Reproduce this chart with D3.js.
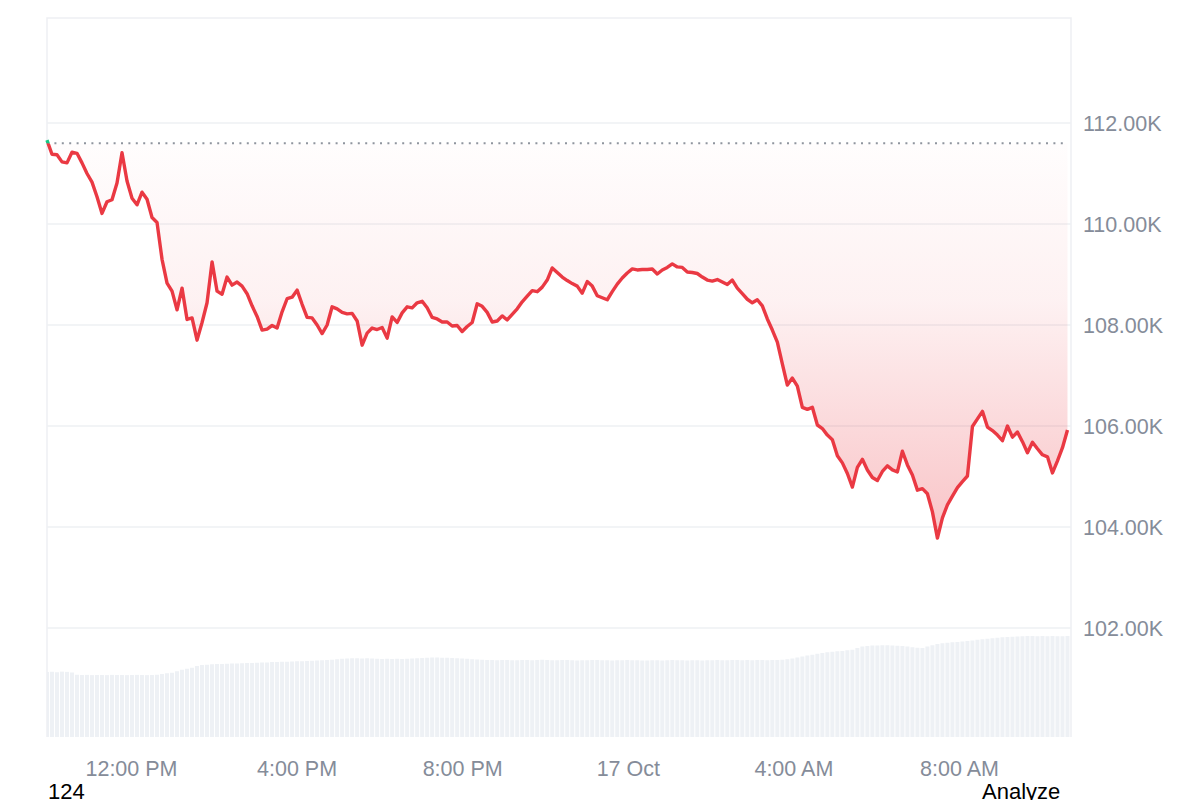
<!DOCTYPE html>
<html>
<head>
<meta charset="utf-8">
<script src="https://cdn.jsdelivr.net/npm/d3@7"></script>
<style>
  html, body { margin: 0; padding: 0; background: #fff; }
  svg { display: block; font-family: "Liberation Sans", Arial, sans-serif; }
</style>
</head>
<body>
<div id="grafico"></div>
<script>
//------------------------------ Datos --------------

// inicio de la serie y paso entre puntos (minutos)
const inicio = new Date(2025, 9, 16, 9, 57, 30)
const pasoMin = 7.25

// precio de referencia (linea punteada)
const precioBase = 111600

// precios en miles de USD
const precios = [
  111.66, 111.38, 111.37, 111.23, 111.21, 111.42, 111.40, 111.21, 111.00, 110.83,
  110.54, 110.21, 110.44, 110.48, 110.81, 111.41, 110.85, 110.51, 110.38, 110.63,
  110.49, 110.13, 110.03, 109.30, 108.83, 108.67, 108.30, 108.73, 108.11, 108.14,
  107.70, 108.05, 108.44, 109.25, 108.67, 108.61, 108.95, 108.79, 108.85, 108.77,
  108.62, 108.38, 108.17, 107.90, 107.92, 107.99, 107.94, 108.26, 108.52, 108.55,
  108.69, 108.41, 108.15, 108.14, 108.00, 107.83, 108.00, 108.36, 108.32, 108.25,
  108.22, 108.23, 108.08, 107.60, 107.84, 107.94, 107.91, 107.95, 107.74, 108.16,
  108.05, 108.24, 108.36, 108.34, 108.44, 108.47, 108.34, 108.15, 108.12, 108.06,
  108.06, 107.98, 107.99, 107.87, 107.97, 108.05, 108.42, 108.37, 108.25, 108.06,
  108.08, 108.18, 108.10, 108.21, 108.32, 108.46, 108.57, 108.68, 108.66, 108.75,
  108.89, 109.13, 109.04, 108.95, 108.88, 108.82, 108.77, 108.63, 108.86, 108.77,
  108.58, 108.54, 108.50, 108.66, 108.81, 108.93, 109.03, 109.11, 109.09, 109.10,
  109.10, 109.11, 109.01, 109.09, 109.14, 109.21, 109.15, 109.14, 109.05, 109.04,
  109.02, 108.95, 108.89, 108.87, 108.90, 108.85, 108.80, 108.89, 108.73, 108.62,
  108.51, 108.44, 108.50, 108.38, 108.12, 107.90, 107.66, 107.23, 106.81, 106.95,
  106.79, 106.37, 106.33, 106.37, 106.02, 105.95, 105.82, 105.73, 105.41, 105.27,
  105.06, 104.79, 105.18, 105.34, 105.13, 104.98, 104.92, 105.10, 105.21, 105.13,
  105.09, 105.50, 105.23, 105.03, 104.73, 104.76, 104.66, 104.30, 103.78, 104.18,
  104.44, 104.61, 104.78, 104.90, 105.01, 105.99, 106.14, 106.29, 105.98, 105.91,
  105.82, 105.71, 106.00, 105.78, 105.88, 105.69, 105.47, 105.68, 105.55, 105.43,
  105.39, 105.07, 105.31, 105.57, 105.92
]

// volumen en miles de millones de USD
const volumenes = [
  52.0, 52.2, 51.8, 52.3, 52.1, 51.6, 49.8, 49.6, 49.7, 49.5,
  49.6, 49.6, 49.5, 49.7, 49.6, 49.6, 49.5, 49.6, 49.7, 49.6,
  49.5, 49.6, 49.8, 50.4, 51.0, 51.4, 52.6, 53.8, 54.6, 55.4,
  56.8, 57.6, 57.8, 58.2, 58.4, 58.4, 58.6, 58.8, 58.8, 59.0,
  59.2, 59.2, 59.4, 59.6, 59.6, 60.0, 60.0, 60.2, 60.2, 60.4,
  60.6, 60.6, 60.8, 61.0, 61.2, 61.4, 61.6, 61.8, 62.2, 62.6,
  62.8, 63.0, 63.0, 62.8, 63.0, 62.8, 62.6, 62.4, 62.6, 62.4,
  62.6, 62.4, 62.6, 62.8, 63.0, 63.2, 63.4, 63.6, 63.6, 63.4,
  63.4, 63.2, 63.0, 62.8, 62.6, 62.2, 62.0, 61.8, 61.6, 61.6,
  61.4, 61.6, 61.6, 61.4, 61.4, 61.6, 61.6, 61.4, 61.6, 61.8,
  61.6, 61.4, 61.4, 61.6, 61.6, 61.4, 61.2, 61.4, 61.4, 61.6,
  61.6, 61.4, 61.4, 61.2, 61.4, 61.4, 61.6, 61.4, 61.4, 61.2,
  61.2, 61.4, 61.4, 61.2, 61.4, 61.6, 61.4, 61.4, 61.2, 61.4,
  61.4, 61.2, 61.4, 61.4, 61.6, 61.4, 61.4, 61.6, 61.6, 61.4,
  61.6, 61.4, 61.6, 61.6, 61.4, 61.6, 61.6, 61.8, 62.2, 62.8,
  63.6, 64.4, 65.2, 65.8, 66.6, 67.2, 67.8, 68.2, 68.6, 68.8,
  69.4, 69.8, 71.2, 72.4, 72.8, 73.2, 73.2, 73.4, 73.4, 73.2,
  73.0, 72.8, 72.4, 71.8, 71.4, 71.2, 72.4, 73.4, 74.4, 75.0,
  75.4, 75.8, 76.0, 76.4, 76.8, 77.2, 77.8, 78.2, 78.6, 79.0,
  79.4, 79.8, 80.0, 80.2, 80.4, 80.6, 80.8, 80.8, 80.6, 80.8,
  80.6, 80.8, 80.6, 80.6, 80.8
]

// marcas de los ejes
const ticksPrecio = [102000, 104000, 106000, 108000, 110000, 112000]
const ticksHora = [
  new Date(2025, 9, 16, 12), new Date(2025, 9, 16, 16), new Date(2025, 9, 16, 20),
  new Date(2025, 9, 17, 0), new Date(2025, 9, 17, 4), new Date(2025, 9, 17, 8)
]

//------------------------------ Grafica --------------

const width = 1200
const height = 800
const margin = {top: 18, right: 129, bottom: 63, left: 47}
const abajo = height - margin.bottom
const derecha = width - margin.right

const datos = precios.map((p, i) => ({
  fecha: new Date(inicio.getTime() + i * pasoMin * 60000),
  precio: p * 1000,
  volumen: volumenes[i]
}))

const svg = d3.select("#grafico")
              .append("svg")
              .attr("width", width)
              .attr("height", height)

const xScale = d3.scaleTime()
                 .domain([new Date(2025, 9, 16, 9, 57, 32), new Date(2025, 9, 17, 10, 41, 36)])
                 .range([margin.left, derecha])

const yScale = d3.scaleLinear()
                 .domain([99842, 114079])
                 .range([abajo, margin.top])

const yVol = d3.scaleLinear()
               .domain([0, 82])
               .range([abajo, abajo - 102.5])

const colorGris = "#eef0f3"
const rojo = "#ea3943"
const verde = "#16c784"

const defs = svg.append("defs")
defs.append("clipPath").attr("id", "zona")
    .append("rect")
    .attr("x", margin.left).attr("y", margin.top)
    .attr("width", derecha - margin.left).attr("height", abajo - margin.top)

// rejilla horizontal
svg.append("g")
   .selectAll("line")
   .data(ticksPrecio)
   .enter()
   .append("line")
   .attr("x1", margin.left)
   .attr("x2", derecha)
   .attr("y1", d => yScale(d))
   .attr("y2", d => yScale(d))
   .attr("stroke", colorGris)
   .attr("stroke-width", 1.5)

// barras de volumen
const anchoBarra = (xScale(datos[1].fecha) - xScale(datos[0].fecha)) * 0.8
svg.append("g")
   .attr("clip-path", "url(#zona)")
   .selectAll("rect")
   .data(datos)
   .enter()
   .append("rect")
   .attr("x", d => xScale(d.fecha) - anchoBarra / 2)
   .attr("y", d => yVol(d.volumen))
   .attr("width", anchoBarra)
   .attr("height", d => abajo - yVol(d.volumen))
   .attr("fill", "#eef1f5")

// marco
svg.append("path")
   .attr("d", `M${margin.left},${abajo}V${margin.top}H${derecha}V${abajo}`)
   .attr("fill", "none")
   .attr("stroke", colorGris)
   .attr("stroke-width", 1.5)

const yBase = yScale(precioBase)
const minimo = d3.min(datos, d => d.precio)

// degradado del area
const grad = defs.append("linearGradient")
                 .attr("id", "degradado")
                 .attr("gradientUnits", "userSpaceOnUse")
                 .attr("x1", 0).attr("x2", 0)
                 .attr("y1", yBase).attr("y2", yScale(minimo))
grad.append("stop").attr("offset", "0%").attr("stop-color", rojo).attr("stop-opacity", 0.01)
grad.append("stop").attr("offset", "40%").attr("stop-color", rojo).attr("stop-opacity", 0.07)
grad.append("stop").attr("offset", "100%").attr("stop-color", rojo).attr("stop-opacity", 0.3)

defs.append("clipPath").attr("id", "arriba")
    .append("rect").attr("x", 0).attr("y", 0).attr("width", width).attr("height", yBase)
defs.append("clipPath").attr("id", "debajo")
    .append("rect").attr("x", 0).attr("y", yBase).attr("width", width).attr("height", height - yBase)

const area = d3.area()
               .x(d => xScale(d.fecha))
               .y0(yBase)
               .y1(d => yScale(d.precio))

svg.append("path")
   .datum(datos)
   .attr("clip-path", "url(#debajo)")
   .attr("d", area)
   .attr("fill", "url(#degradado)")

// linea punteada del precio base
svg.append("line")
   .attr("x1", margin.left)
   .attr("x2", xScale(datos[datos.length - 1].fecha))
   .attr("y1", yBase)
   .attr("y2", yBase)
   .attr("stroke", "#8f959e")
   .attr("stroke-width", 2)
   .attr("stroke-dasharray", "2,5.4")

const linea = d3.line()
                .x(d => xScale(d.fecha))
                .y(d => yScale(d.precio))

svg.append("path")
   .datum(datos)
   .attr("clip-path", "url(#debajo)")
   .attr("d", linea)
   .attr("fill", "none")
   .attr("stroke", rojo)
   .attr("stroke-width", 3.4)
   .attr("stroke-linejoin", "round")

svg.append("path")
   .datum(datos)
   .attr("clip-path", "url(#arriba)")
   .attr("d", linea)
   .attr("fill", "none")
   .attr("stroke", verde)
   .attr("stroke-width", 3.4)
   .attr("stroke-linejoin", "round")

// eje y (derecha)
svg.append("g")
   .selectAll("text")
   .data(ticksPrecio)
   .enter()
   .append("text")
   .attr("x", 1083)
   .attr("y", d => yScale(d))
   .attr("dy", "0.35em")
   .attr("font-size", 21.5)
   .attr("fill", "#858c99")
   .text(d => d3.format(".2f")(d / 1000) + "K")

// eje x
const formatoHora = d3.timeFormat("%-I:%M %p")
const formatoDia = d3.timeFormat("%-d %b")
svg.append("g")
   .selectAll("text")
   .data(ticksHora)
   .enter()
   .append("text")
   .attr("x", d => xScale(d))
   .attr("y", 776)
   .attr("text-anchor", "middle")
   .attr("font-size", 21.5)
   .attr("fill", "#858c99")
   .text(d => d.getHours() === 0 ? formatoDia(d) : formatoHora(d))

// textos sueltos de abajo
svg.append("text")
   .attr("x", 48)
   .attr("y", 799)
   .attr("font-size", 22)
   .attr("fill", "#000")
   .text("124")

svg.append("text")
   .attr("x", 982)
   .attr("y", 799)
   .attr("font-size", 22)
   .attr("fill", "#000")
   .text("Analyze")
</script>
</body>
</html>
